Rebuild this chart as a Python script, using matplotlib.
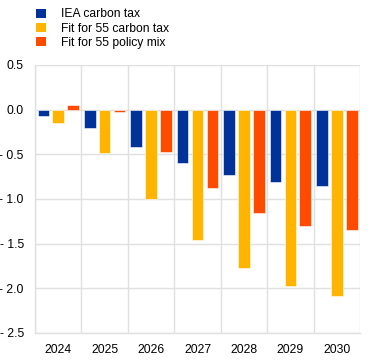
import numpy as np
import matplotlib.pyplot as plt
from matplotlib.patches import Patch

plt.rcParams['font.family'] = ['Liberation Sans', 'DejaVu Sans']

years = ["2024", "2025", "2026", "2027", "2028", "2029", "2030"]
iea_carbon_tax = [-0.07, -0.21, -0.42, -0.60, -0.73, -0.81, -0.85]
f55_carbon_tax = [-0.15, -0.49, -1.00, -1.46, -1.77, -1.97, -2.09]
f55_policy_mix = [0.05, -0.03, -0.47, -0.88, -1.16, -1.30, -1.35]

series = [
    ("IEA carbon tax", iea_carbon_tax, "#003299"),
    ("Fit for 55 carbon tax", f55_carbon_tax, "#FFB400"),
    ("Fit for 55 policy mix", f55_policy_mix, "#FF4B00"),
]

fig = plt.figure(figsize=(3.72, 3.61), dpi=100)
ax = fig.add_axes([0.094, 0.078, 0.874, 0.742])

x = np.arange(len(years))
width = 0.25
step = 0.32
for i, (name, vals, col) in enumerate(series):
    ax.bar(x + (i - 1) * step, vals, width, color=col, edgecolor="#ffffff",
           linewidth=0.4, label=name, zorder=3)

ax.set_xlim(-0.5, len(years) - 0.5)
ax.set_ylim(-2.5, 0.5)
yt = np.arange(-2.5, 0.51, 0.5)
ax.set_yticks(yt)
ax.set_yticklabels([f"{v:.1f}".replace("-", "- ") for v in yt])
ax.set_xticks(x)
ax.set_xticklabels(years)
ax.set_xticks(np.arange(-0.5, len(years), 1), minor=True)

ax.grid(axis="y", color="#e0e0e0", linewidth=1, zorder=0)
ax.grid(axis="x", which="minor", color="#e0e0e0", linewidth=1, zorder=0)
ax.tick_params(axis="both", which="both", length=0, labelsize=8.7, colors="#000000")
ax.tick_params(axis="y", pad=8)
ax.tick_params(axis="x", pad=8)
for s in ["top", "right"]:
    ax.spines[s].set_visible(False)
for s in ["left", "bottom"]:
    ax.spines[s].set_color("#e0e0e0")
    ax.spines[s].set_linewidth(1)

handles = [Patch(facecolor=c, label=n) for n, _, c in series]
fig.legend(handles=handles, loc="upper left", bbox_to_anchor=(0.075, 1.0),
           frameon=False, fontsize=8.7, handlelength=0.8, handleheight=0.8,
           handletextpad=1.2, labelspacing=0.18, borderaxespad=0.3)

fig.savefig("out.png", dpi=100)
